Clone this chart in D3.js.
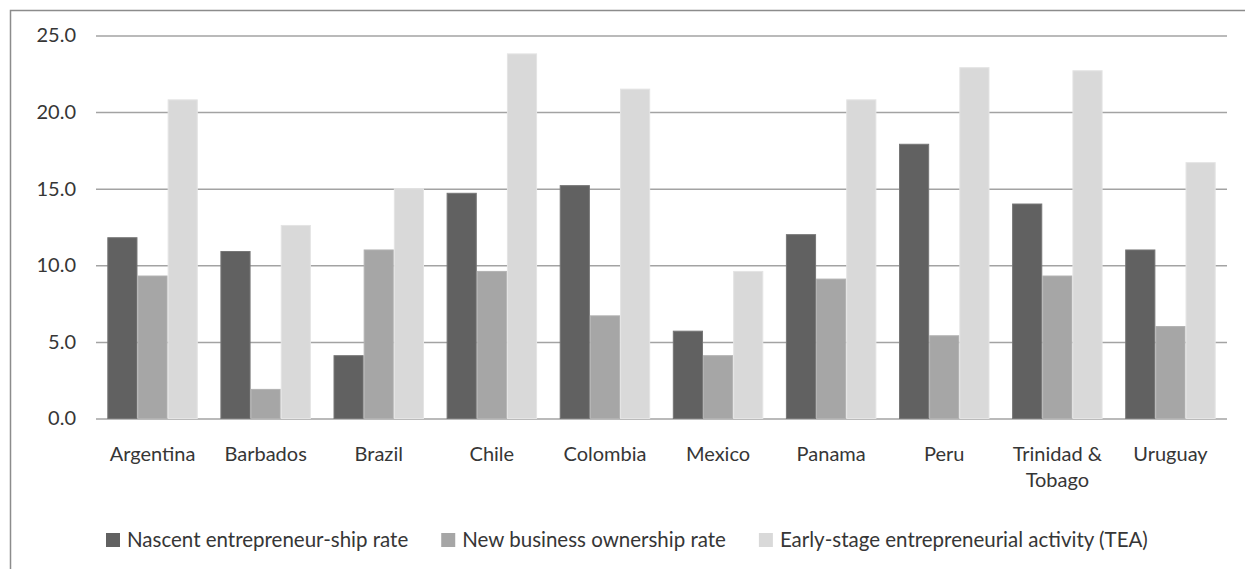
<!DOCTYPE html>
<html>
<head>
<meta charset="utf-8">
<script src="https://cdn.jsdelivr.net/npm/d3@7"></script>
<style>
  html, body { margin: 0; padding: 0; background: #fff; }
  svg { display: block; }
  text { font-family: Lato, "Open Sans", sans-serif; fill: #363636; }
</style>
</head>
<body>
<svg id="chart" width="1245" height="569"></svg>
<script>
// Entrepreneurial activity rates by country (%)
const categories = ["Argentina", "Barbados", "Brazil", "Chile", "Colombia",
                    "Mexico", "Panama", "Peru", "Trinidad & Tobago", "Uruguay"];
const nascentRate = [11.8, 10.9, 4.1, 14.7, 15.2, 5.7, 12.0, 17.9, 14.0, 11.0];
const newBusinessRate = [9.3, 1.9, 11.0, 9.6, 6.7, 4.1, 9.1, 5.4, 9.3, 6.0];
const teaRate = [20.8, 12.6, 15.0, 23.8, 21.5, 9.6, 20.8, 22.9, 22.7, 16.7];
const seriesNames = ["Nascent entrepreneur-ship rate",
                     "New business ownership rate",
                     "Early-stage entrepreneurial activity (TEA)"];
const yTicks = [0, 5, 10, 15, 20, 25];

const seriesValues = [nascentRate, newBusinessRate, teaRate];
const fills = ["#616161", "#a6a6a6", "#d9d9d9"];
const strokes = ["#767676", "#b2b2b2", "#e4e4e4"];

const svg = d3.select("#chart");

// chart frame
svg.append("rect")
  .attr("x", 10.5).attr("y", 10.5)
  .attr("width", 1260).attr("height", 600)
  .attr("fill", "none").attr("stroke", "#8c8c8c").attr("stroke-width", 1.5);

const plot = { left: 96, right: 1227, top: 35.5, bottom: 418.5 };

const x0 = d3.scaleBand()
  .domain(categories)
  .range([plot.left, plot.right])
  .paddingInner(0.2)
  .paddingOuter(0.1);

const x1 = d3.scaleBand()
  .domain(d3.range(seriesNames.length))
  .range([0, x0.bandwidth()]);

const y = d3.scaleLinear()
  .domain([0, 25])
  .range([plot.bottom, plot.top]);

// gridlines + y labels
const yAxis = svg.append("g")
  .attr("transform", `translate(${plot.left},0)`)
  .call(d3.axisLeft(y)
    .tickValues(yTicks)
    .tickFormat(d3.format(".1f"))
    .tickSize(-(plot.right - plot.left))
    .tickPadding(20));
yAxis.select(".domain").remove();
yAxis.selectAll(".tick line")
  .attr("stroke", "#a3a3a3").attr("stroke-width", 1.5);
yAxis.selectAll(".tick text")
  .attr("font-size", 20).attr("fill", "#363636")
  .style("font-family", "Lato, sans-serif");

// bars
const groups = svg.append("g").selectAll("g")
  .data(categories)
  .join("g")
  .attr("transform", d => `translate(${x0(d)},0)`);

groups.selectAll("rect")
  .data((d, i) => seriesValues.map((vals, s) => ({ s, v: vals[i] })))
  .join("rect")
  .attr("x", d => x1(d.s) + 0.5)
  .attr("width", x1.bandwidth() - 1)
  .attr("y", d => y(d.v))
  .attr("height", d => y(0) - y(d.v))
  .attr("fill", d => fills[d.s])
  .attr("stroke", d => strokes[d.s])
  .attr("stroke-width", 1);

// category labels, wrapped to the band width
function wrap(textSel, width) {
  textSel.each(function () {
    const text = d3.select(this);
    const words = text.text().split(/\s+/);
    text.text(null);
    let line = [];
    let tspan = text.append("tspan").attr("x", 0).attr("dy", 0);
    for (const w of words) {
      line.push(w);
      tspan.text(line.join(" "));
      if (tspan.node().getComputedTextLength() > width && line.length > 1) {
        line.pop();
        tspan.text(line.join(" "));
        line = [w];
        tspan = text.append("tspan").attr("x", 0).attr("dy", 26).text(w);
      }
    }
  });
}

const xAxis = svg.append("g")
  .attr("transform", `translate(0,${plot.bottom})`)
  .call(d3.axisBottom(x0).tickSize(0).tickPadding(0));
xAxis.select(".domain").remove();
xAxis.selectAll(".tick text")
  .attr("y", 42.5).attr("dy", 0)
  .attr("font-size", 20).attr("fill", "#363636")
  .style("font-family", "Lato, sans-serif")
  .call(wrap, x0.step() - 4);

// legend
const legend = svg.append("g");
let lx = 106;
seriesNames.forEach((name, i) => {
  legend.append("rect")
    .attr("x", lx).attr("y", 533)
    .attr("width", 14).attr("height", 14)
    .attr("fill", fills[i]);
  const t = legend.append("text")
    .attr("x", lx + 21).attr("y", 547)
    .attr("font-size", 20.5)
    .text(name);
  lx += 21 + t.node().getComputedTextLength() + 33;
});
</script>
</body>
</html>
